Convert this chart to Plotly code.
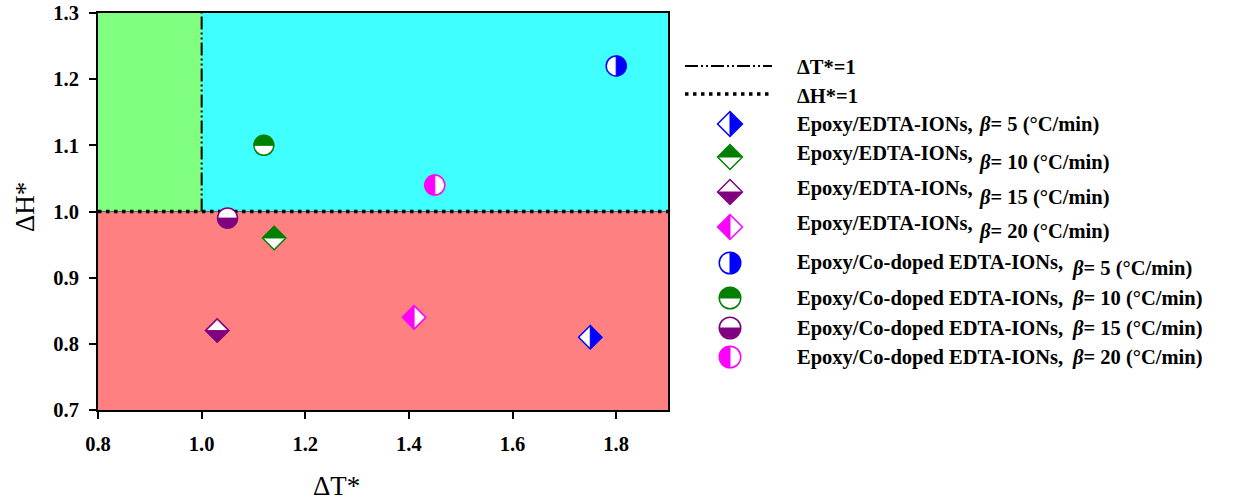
import math
import plotly.graph_objects as go

# ---------------- data ----------------
series_prefix = ["Epoxy/EDTA-IONs,"] * 4 + ["Epoxy/Co-doped EDTA-IONs,"] * 4
series_rate = [
    "<i>β</i>= 5 (°C/min)",
    "<i>β</i>= 10 (°C/min)",
    "<i>β</i>= 15 (°C/min)",
    "<i>β</i>= 20 (°C/min)",
] * 2
delta_T = [1.75, 1.14, 1.03, 1.41, 1.80, 1.12, 1.05, 1.45]
delta_H = [0.81, 0.96, 0.82, 0.84, 1.22, 1.10, 0.99, 1.04]
marker_kind = ["diamond"] * 4 + ["circle"] * 4
series_colors = ["#0000FF", "#008000", "#800080", "#FF00FF"] * 2
half_side = ["right", "top", "bottom", "left"] * 2

x_ticks = [0.8, 1.0, 1.2, 1.4, 1.6, 1.8]
y_ticks = [0.7, 0.8, 0.9, 1.0, 1.1, 1.2, 1.3]
x_range = [0.8, 1.9]
y_range = [0.7, 1.3]
ref_T = 1.0
ref_H = 1.0

# ---------------- geometry helpers ----------------
K = 0.5523
SIDE_ANGLE = {"right": 0, "top": 90, "left": 180, "bottom": 270}
DIAMOND_SIZE = 18
CIRCLE_SIZE = 20


def pt(r, ang):
    a = math.radians(ang)
    return r * math.cos(a), r * math.sin(a)


def half_path(kind, side, r):
    th = SIDE_ANGLE[side]
    if kind == "diamond":
        p = [pt(r, th + 90), pt(r, th), pt(r, th - 90)]
        return "M{:.2f},{:.2f} L{:.2f},{:.2f} L{:.2f},{:.2f} Z".format(*p[0], *p[1], *p[2])
    start = pt(r, th + 90)
    path = "M{:.2f},{:.2f}".format(*start)
    for a0, a1 in [(th + 90, th), (th, th - 90)]:
        p0 = pt(r, a0)
        p3 = pt(r, a1)
        t0 = (math.sin(math.radians(a0)), -math.cos(math.radians(a0)))
        t1 = (math.sin(math.radians(a1)), -math.cos(math.radians(a1)))
        p1 = (p0[0] + K * r * t0[0], p0[1] + K * r * t0[1])
        p2 = (p3[0] - K * r * t1[0], p3[1] - K * r * t1[1])
        path += " C{:.2f},{:.2f} {:.2f},{:.2f} {:.2f},{:.2f}".format(*p1, *p2, *p3)
    return path + " Z"


def full_path(kind, r):
    if kind == "diamond":
        p = [pt(r, a) for a in (0, 90, 180, 270)]
        return "M{:.2f},{:.2f} L{:.2f},{:.2f} L{:.2f},{:.2f} L{:.2f},{:.2f} Z".format(*p[0], *p[1], *p[2], *p[3])
    return half_path("circle", "right", r)[:-2] + " " + half_path("circle", "left", r).split(" ", 1)[1]


def marker_r(kind):
    return 0.65 * DIAMOND_SIZE if kind == "diamond" else CIRCLE_SIZE / 2


FIG_W, FIG_H = 1247, 502
L, R, T, B = 98, 668, 13, 410
W, H = R - L, B - T


def px_x(px):
    return (px - L) / W


def px_y(py):
    return (B - py) / H


fig = go.Figure()
shapes = []

# background regions
shapes.append(dict(type="rect", xref="x", yref="y", x0=x_range[0], x1=ref_T, y0=ref_H, y1=y_range[1],
                   fillcolor="#80FF80", line=dict(width=0), layer="below"))
shapes.append(dict(type="rect", xref="x", yref="y", x0=ref_T, x1=x_range[1], y0=ref_H, y1=y_range[1],
                   fillcolor="#40FFFF", line=dict(width=0), layer="below"))
shapes.append(dict(type="rect", xref="x", yref="y", x0=x_range[0], x1=x_range[1], y0=y_range[0], y1=ref_H,
                   fillcolor="#FF8080", line=dict(width=0), layer="below"))

DASHDOTDOT = "13px,3px,2px,3px,2px,3px"
DOTTED = "3.5px,4.5px"

# reference lines
fig.add_trace(go.Scatter(x=[ref_T, ref_T], y=[ref_H, y_range[1]], mode="lines",
                         line=dict(color="black", width=2, dash=DASHDOTDOT), showlegend=False, hoverinfo="skip"))
fig.add_trace(go.Scatter(x=[x_range[0], x_range[1]], y=[ref_H, ref_H], mode="lines",
                         line=dict(color="#606060", width=1), showlegend=False, hoverinfo="skip"))
fig.add_trace(go.Scatter(x=[x_range[0], x_range[1]], y=[ref_H, ref_H], mode="lines",
                         line=dict(color="black", width=3.5, dash=DOTTED), showlegend=False, hoverinfo="skip"))

# data points: white-filled markers + half fill shapes
for i in range(len(delta_T)):
    kind = marker_kind[i]
    col = series_colors[i]
    fig.add_trace(go.Scatter(
        x=[delta_T[i]], y=[delta_H[i]], mode="markers",
        name=series_prefix[i] + " " + series_rate[i],
        marker=dict(symbol=kind, size=DIAMOND_SIZE if kind == "diamond" else CIRCLE_SIZE,
                    color="white", line=dict(color=col, width=1.5)),
        showlegend=False))
    shapes.append(dict(type="path", xref="x", yref="y", xsizemode="pixel", ysizemode="pixel",
                       xanchor=delta_T[i], yanchor=delta_H[i],
                       path=half_path(kind, half_side[i], marker_r(kind)),
                       fillcolor=col, line=dict(color=col, width=1), layer="above"))

# ---------------- manual legend (pixel positions) ----------------
FONT = "Liberation Serif, Times New Roman, serif"
LEG_SIZE = 20.5
line_rows = [66, 94]
line_text_rows = [67, 96]
sym_rows = [124, 157, 192, 227, 263, 298, 328, 357]
prefix_rows = [125, 153, 188, 223, 262, 298, 328, 357]
rate_rows = [125, 162, 197, 232, 268, 298, 328, 357]
sym_x = 730
line_x0, line_x1 = 685, 772
text_x = 795
rate_x = [977] * 4 + [1070] * 4

annotations = []
shapes.append(dict(type="line", xref="paper", yref="paper", x0=px_x(line_x0), x1=px_x(line_x1),
                   y0=px_y(line_rows[0]), y1=px_y(line_rows[0]),
                   line=dict(color="black", width=2, dash=DASHDOTDOT)))
shapes.append(dict(type="line", xref="paper", yref="paper", x0=px_x(line_x0), x1=px_x(line_x1),
                   y0=px_y(line_rows[1]), y1=px_y(line_rows[1]),
                   line=dict(color="black", width=3.5, dash=DOTTED)))


def leg_text(x, y, txt):
    annotations.append(dict(x=px_x(x), y=px_y(y), xref="paper", yref="paper",
                            text="<b>" + txt + "</b>", showarrow=False, xanchor="left", yanchor="middle",
                            font=dict(family=FONT, size=LEG_SIZE, color="black")))


leg_text(text_x, line_text_rows[0], "ΔT*=1")
leg_text(text_x, line_text_rows[1], "ΔH*=1")
for i in range(len(series_prefix)):
    leg_text(text_x, prefix_rows[i], series_prefix[i])
    leg_text(rate_x[i], rate_rows[i], series_rate[i])
    kind = marker_kind[i]
    col = series_colors[i]
    r = marker_r(kind)
    common = dict(type="path", xref="paper", yref="paper", xsizemode="pixel", ysizemode="pixel",
                  xanchor=px_x(sym_x), yanchor=px_y(sym_rows[i]))
    shapes.append(dict(common, path=full_path(kind, r + 0.75), fillcolor="white",
                       line=dict(color=col, width=1.5)))
    shapes.append(dict(common, path=half_path(kind, half_side[i], r),
                       fillcolor=col, line=dict(color=col, width=1)))

# axis titles
annotations.append(dict(x=px_x(336), y=px_y(486), xref="paper", yref="paper", text="ΔT*",
                        showarrow=False, xanchor="center", yanchor="middle",
                        font=dict(family=FONT, size=27, color="black")))
annotations.append(dict(x=px_x(25), y=px_y(207), xref="paper", yref="paper", text="ΔH*",
                        showarrow=False, xanchor="center", yanchor="middle", textangle=-90,
                        font=dict(family=FONT, size=27, color="black")))

axis_common = dict(showgrid=False, zeroline=False, showline=True, linecolor="black", linewidth=2,
                   mirror=True, ticks="outside", ticklen=7, tickwidth=2, tickcolor="black",
                   automargin=False, ticklabeloverflow="allow",
                   tickfont=dict(family=FONT, size=20.5, color="black", weight="bold"))

fig.update_layout(
    width=FIG_W, height=FIG_H,
    margin=dict(l=L, r=FIG_W - R, t=T, b=FIG_H - B, pad=0, autoexpand=False),
    paper_bgcolor="white", plot_bgcolor="white",
    showlegend=False,
    shapes=shapes,
    annotations=annotations,
    xaxis=dict(range=x_range, tickvals=x_ticks, ticktext=["{:.1f}".format(v) for v in x_ticks],
               ticklabelstandoff=7, **axis_common),
    yaxis=dict(range=y_range, tickvals=y_ticks, ticktext=["{:.1f}".format(v) for v in y_ticks],
               ticklabelstandoff=6, **axis_common),
)

fig.write_html("out.html", config={"displayModeBar": False},
               post_script="document.body.style.margin='0';document.body.style.overflow='hidden';")
